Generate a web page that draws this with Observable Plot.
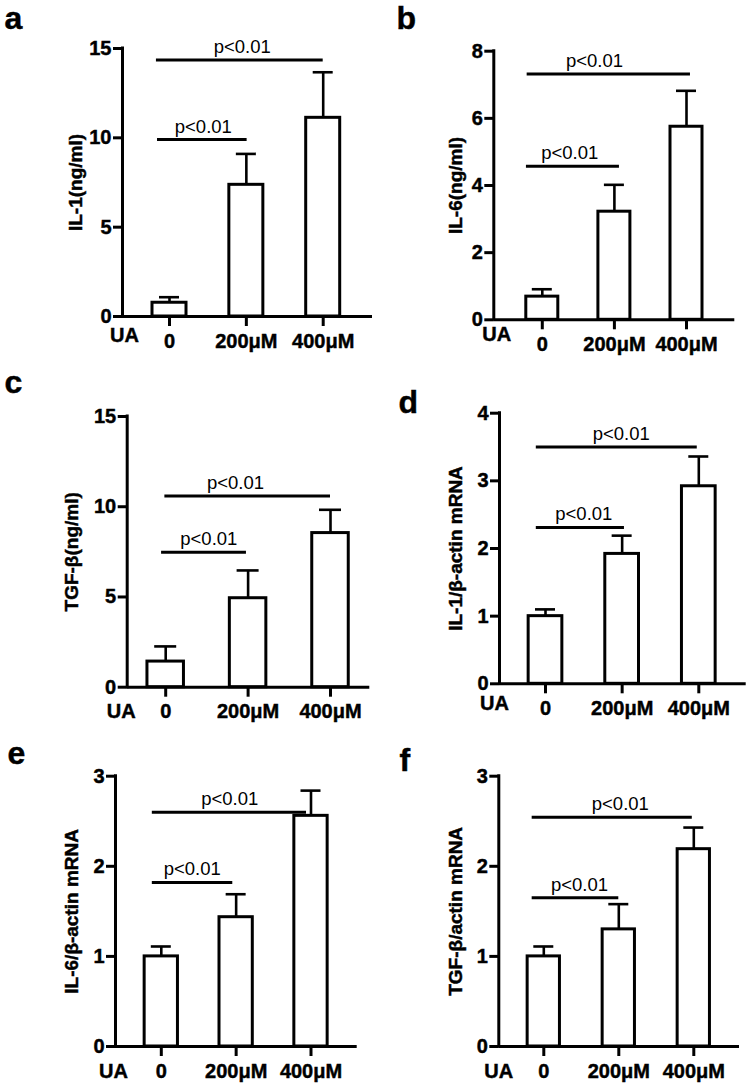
<!DOCTYPE html>
<html>
<head>
<meta charset="utf-8">
<script src="https://cdn.jsdelivr.net/npm/d3@7"></script>
<script src="https://cdn.jsdelivr.net/npm/@observablehq/plot@0.6"></script>
<style>
  html, body { margin: 0; padding: 0; background: white; }
  #fig { position: relative; width: 749px; height: 1085px; background: white; color: black; }
  #fig > svg { position: absolute; }
  #fig svg g[font-weight="bold"] text { stroke: black; stroke-width: 0.45px; }
</style>
</head>
<body>
<div id="fig"></div>
<script>
// ---- data ----
const panelIds = ["a", "b", "c", "d", "e", "f"];
const groups = ["0", "200μM", "400μM"];
const treatmentLabel = "UA";
const pText = "p<0.01";
const yLabels = ["IL-1(ng/ml)", "IL-6(ng/ml)", "TGF-β(ng/ml)", "IL-1/β-actin mRNA", "IL-6/β-actin mRNA", "TGF-β/actin mRNA"];
const yTicks = [[0, 5, 10, 15], [0, 2, 4, 6, 8], [0, 5, 10, 15], [0, 1, 2, 3, 4], [0, 1, 2, 3], [0, 1, 2, 3]];
const means = [
  [0.77, 7.37, 11.12],
  [0.69, 3.22, 5.75],
  [1.42, 4.93, 8.54],
  [1.00, 1.92, 2.92],
  [1.00, 1.435, 2.56],
  [1.00, 1.30, 2.19]
];
const sems = [
  [0.31, 1.73, 2.55],
  [0.22, 0.80, 1.07],
  [0.84, 1.54, 1.29],
  [0.10, 0.27, 0.44],
  [0.11, 0.255, 0.28],
  [0.11, 0.28, 0.24]
];
// significance brackets (in group-index units): start, end, height, label position
const sigX1 = [[-0.17, -0.156], [-0.21, -0.22], [-0.01, -0.05], [-0.12, -0.12], [-0.12, -0.12], [-0.155, -0.155]];
const sigX2 = [[2.0, 1.01], [2.055, 1.07], [2.0, 0.98], [1.98, 1.03], [1.94, 0.955], [1.98, 1.0]];
const sigY = [[14.36, 9.9], [7.32, 4.57], [10.59, 7.48], [3.50, 2.31], [2.60, 1.82], [2.545, 1.65]];
const sigLabelX = [[0.946, 0.44], [0.724, 0.38], [0.847, 0.523], [0.988, 0.5], [0.915, 0.413], [1.02, 0.476]];

// ---- layout (pixels, page coordinates) ----
const layout = [
  {left: 0,   top: 0,   width: 375, height: 360, axisX: 122,   yTop: 48,    y0: 316,   c0: 169,   step: 76.85, right: 372,   barW: 34,   capW: 20, ylabOff: 47,   uaDx: 2,  uaDy: 25,   letter: [4, 28]},
  {left: 375, top: 0,   width: 374, height: 360, axisX: 493.3, yTop: 50.7,  y0: 319.3, c0: 541.8, step: 72.1,  right: 734.3, barW: 32,   capW: 20, ylabOff: 38.3, uaDx: 3,  uaDy: 21,   letter: [396, 28]},
  {left: 0,   top: 360, width: 375, height: 365, axisX: 126.7, yTop: 416,   y0: 686.7, c0: 165.2, step: 82.4,  right: 369.3, barW: 36.5, capW: 22, ylabOff: 55,   uaDx: -6, uaDy: 31,   letter: [4, 392]},
  {left: 375, top: 360, width: 374, height: 365, axisX: 499,   yTop: 412.7, y0: 683.3, c0: 545,   step: 76.65, right: 745.7, barW: 33.7, capW: 20, ylabOff: 44,   uaDx: -5, uaDy: 26,   letter: [398, 412]},
  {left: 0,   top: 725, width: 375, height: 360, axisX: 115,   yTop: 775.7, y0: 1046,  c0: 160.8, step: 74.85, right: 356.7, barW: 33.3, capW: 20, ylabOff: 43.3, uaDx: -2, uaDy: 31.7, letter: [7, 763]},
  {left: 375, top: 725, width: 374, height: 360, axisX: 498.3, yTop: 775.7, y0: 1046,  c0: 543.3, step: 75,    right: 739,   barW: 32.3, capW: 20, ylabOff: 43.3, uaDx: 0,  uaDy: 31.7, letter: [399, 770]}
];

const FONT = "'Liberation Sans', Arial, Helvetica, sans-serif";
const LETTER_SIZE = 32;
const fig = document.getElementById("fig");

panelIds.forEach((id, k) => {
  const L = layout[k];
  const ML = L.axisX - L.left;
  const MT = L.yTop - L.top;
  const MB = L.top + L.height - L.y0;
  const MR = L.left + L.width - L.right;
  const lo = (L.axisX - L.c0) / L.step;
  const hi = (L.right - L.c0) / L.step;
  const hw = L.barW / 2 / L.step;
  const cw = L.capW / 2 / L.step;
  const ymax = yTicks[k][yTicks[k].length - 1];
  const rows = groups.map((g, i) => ({i, g, mean: means[k][i], hi: means[k][i] + sems[k][i]}));
  const sig = sigY[k].map((y, j) => ({y, x1: sigX1[k][j], x2: sigX2[k][j], lx: sigLabelX[k][j]}));

  const svg = Plot.plot({
    width: L.width,
    height: L.height,
    marginLeft: ML,
    marginRight: MR,
    marginTop: MT,
    marginBottom: MB,
    x: {type: "linear", domain: [lo, hi]},
    y: {type: "linear", domain: [0, ymax]},
    style: {fontFamily: FONT, background: "transparent", color: "black", overflow: "visible"},
    marks: [
      Plot.rectY(rows, {x1: d => d.i - hw, x2: d => d.i + hw, y1: () => 0, y2: "mean", fill: "white", stroke: "black", strokeWidth: 3}),
      Plot.ruleX(rows, {x: "i", y1: "mean", y2: "hi", stroke: "black", strokeWidth: 2.6}),
      Plot.ruleY(rows, {y: "hi", x1: d => d.i - cw, x2: d => d.i + cw, stroke: "black", strokeWidth: 2.6}),
      Plot.ruleY(sig, {y: "y", x1: "x1", x2: "x2", stroke: "black", strokeWidth: 3}),
      Plot.text(sig, {x: "lx", y: "y", text: () => pText, dy: -13, lineAnchor: "middle", textAnchor: "middle", fontSize: 18.5, fill: "black"}),
      Plot.ruleX([lo], {y1: () => 0, y2: () => ymax, stroke: "black", strokeWidth: 3, strokeLinecap: "square"}),
      Plot.ruleY([0], {x1: () => lo, x2: () => hi, stroke: "black", strokeWidth: 3}),
      Plot.axisY({ticks: yTicks[k], tickFormat: d => String(d), tickSize: 9, tickPadding: 2, fontSize: 20, fontWeight: "bold", strokeWidth: 3, label: null}),
      Plot.axisX({ticks: [0, 1, 2], tickFormat: i => groups[i], tickSize: 10, tickPadding: 7, fontSize: 20, fontWeight: "bold", strokeWidth: 3, label: null}),
      Plot.text([yLabels[k]], {frameAnchor: "left", rotate: -90, dx: -L.ylabOff, textAnchor: "middle", lineAnchor: "middle", fontSize: 19, fontWeight: "bold", fill: "black"}),
      Plot.text([treatmentLabel], {frameAnchor: "bottom-left", dx: L.uaDx, dy: L.uaDy - 6.4, textAnchor: "middle", lineAnchor: "middle", fontSize: 20, fontWeight: "bold", fill: "black"}),
      Plot.text([id], {frameAnchor: "top-left", dx: L.letter[0] - L.axisX, dy: L.letter[1] - 0.32 * LETTER_SIZE - L.yTop, textAnchor: "start", lineAnchor: "middle", fontSize: LETTER_SIZE, fontWeight: "bold", fill: "black"})
    ]
  });
  svg.style.left = L.left + "px";
  svg.style.top = L.top + "px";
  fig.appendChild(svg);
});
</script>
</body>
</html>
